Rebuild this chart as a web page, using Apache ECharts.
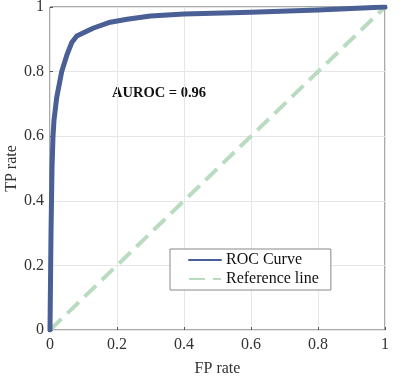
<!DOCTYPE html>
<html>
<head>
<meta charset="utf-8">
<script src="https://cdn.jsdelivr.net/npm/echarts@6/dist/echarts.min.js"></script>
<style>
  html, body { margin: 0; padding: 0; background: #fff; }
  #chart { width: 416px; height: 382px; }
</style>
</head>
<body>
<div id="chart"></div>
<script>
// ROC curve points
var fpRate = [0, 0.003, 0.006, 0.009, 0.012, 0.02, 0.035, 0.05, 0.065, 0.08, 0.1, 0.13, 0.18, 0.23, 0.3, 0.4, 0.6, 0.8, 1];
var tpRate = [0, 0.3, 0.5, 0.6, 0.65, 0.72, 0.8, 0.85, 0.89, 0.91, 0.92, 0.935, 0.953, 0.962, 0.972, 0.978, 0.984, 0.991, 1];
var refX = [0, 1];
var refY = [0, 1];
var seriesNames = ['ROC Curve', 'Reference line'];
var aurocText = 'AUROC = 0.96';

var font = 'Liberation Serif';
var rocData = fpRate.map(function (x, i) { return [x, tpRate[i]]; });
var refData = refX.map(function (x, i) { return [x, refY[i]]; });

function tickFmt(v) { return String(parseFloat(v.toFixed(1))); }

var chart = echarts.init(document.getElementById('chart'));
var option = {
  animation: false,
  grid: {
    left: 50, right: 31, top: 7, bottom: 52,
    outerBoundsMode: 'none', containLabel: false,
    show: true, borderColor: '#555', borderWidth: 1
  },
  xAxis: {
    type: 'value', min: 0, max: 1, interval: 0.2,
    name: 'FP rate', nameLocation: 'middle', nameGap: 31, nameMoveOverlap: false,
    nameTextStyle: { fontFamily: font, fontSize: 16, color: '#333' },
    axisLine: { show: false },
    axisTick: { show: true, inside: true, length: 3, lineStyle: { color: '#555' } },
    axisLabel: { fontFamily: font, fontSize: 16, color: '#333', margin: 7, formatter: tickFmt },
    splitLine: { show: true, lineStyle: { color: '#e6e6e6', width: 1 } }
  },
  yAxis: {
    type: 'value', min: 0, max: 1, interval: 0.2,
    name: 'TP rate', nameLocation: 'middle', nameGap: 30, nameRotate: 90, nameMoveOverlap: false,
    nameTextStyle: { fontFamily: font, fontSize: 16, color: '#333' },
    axisLine: { show: false },
    axisTick: { show: true, inside: true, length: 3, lineStyle: { color: '#555' } },
    axisLabel: { fontFamily: font, fontSize: 16, color: '#333', margin: 6, formatter: tickFmt },
    splitLine: { show: true, lineStyle: { color: '#e6e6e6', width: 1 } }
  },
  legend: {
    left: 170, top: 249,
    orient: 'vertical',
    data: seriesNames,
    itemWidth: 32, itemHeight: 4, itemGap: 3,
    padding: [3, 12, 3, 18],
    borderColor: '#888', borderWidth: 1,
    backgroundColor: '#fff',
    itemStyle: { opacity: 0 },
    textStyle: { fontFamily: font, fontSize: 16, color: '#111' }
  },
  graphic: [{
    type: 'text', left: 112, top: 86,
    style: { text: aurocText, font: 'bold 14.5px "Liberation Serif"', fill: '#111' }
  }],
  series: [
    {
      name: seriesNames[1], type: 'line', data: refData,
      showSymbol: false, symbol: 'none', z: 2,
      lineStyle: { color: '#b9dcc0', width: 4, type: [16, 8] },
      itemStyle: { color: '#b9dcc0' }
    },
    {
      name: seriesNames[0], type: 'line', data: rocData,
      showSymbol: false, symbol: 'none', z: 3,
      lineStyle: { color: '#4a5f95', width: 5, join: 'round', cap: 'round' },
      itemStyle: { color: '#4a5f95' }
    }
  ]
};
chart.setOption(option);
</script>
</body>
</html>
